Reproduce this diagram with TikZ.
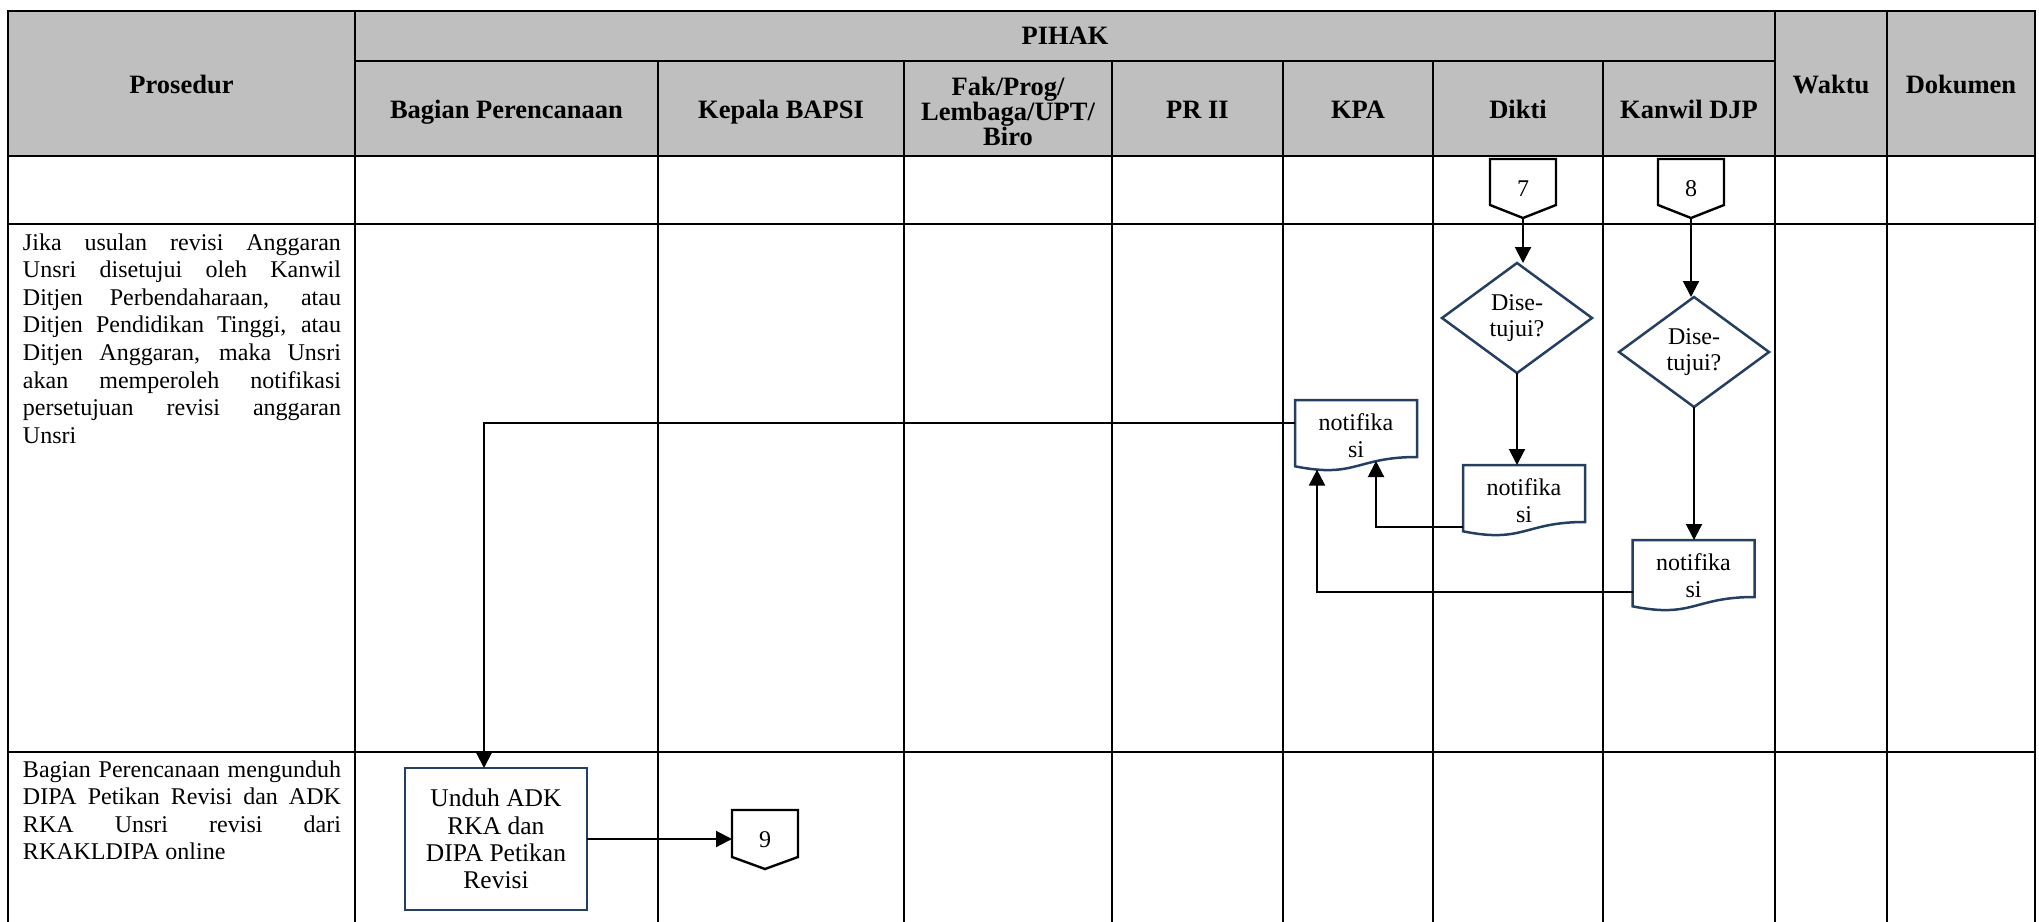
\documentclass[tikz,border=0pt]{standalone}
\usepackage{fontspec}
\setmainfont{Liberation Serif}
\usetikzlibrary{calc,arrows.meta}
\definecolor{hdrgray}{RGB}{191,191,191}
\definecolor{navy}{RGB}{36,63,96}
\newcommand\jline[1]{\hbox to \linewidth{\spaceskip=0.25em plus 1fil minus 0.12em\relax #1}}
\newcommand\docpath[1]{\draw[shp] (#1.north west) -- (#1.north east) -- ($(#1.north east)+(0,57)$) .. controls ($(#1.north)+(0,57)$) and ($(#1.north)+(0,78.6)$) .. ($(#1.north west)+(0,66.3)$) -- cycle;}
\newcommand\conpath[2]{\draw[cn] (#1.north west) -- (#1.north east) -- ($(#1.north east)+(0,#2)$) -- (#1.south) -- ($(#1.north west)+(0,#2)$) -- cycle;}
\newcommand\diapath[1]{\draw[shp] (#1.north) -- (#1.east) -- (#1.south) -- (#1.west) -- cycle;}
\begin{document}
\begin{tikzpicture}[x=1pt,y=-1pt,
  every node/.style={inner sep=0pt, outer sep=0pt, font=\fontsize{24}{27.6}\selectfont},
  hd/.style={font=\fontsize{26.5}{25}\selectfont\bfseries},
  grid/.style={line width=2.6pt, line cap=rect},
  shp/.style={line width=2.5pt, draw=navy, line join=miter},
  cn/.style={line width=2.4pt, draw=black},
  arr/.style={line width=2.1pt, -{Triangle[length=16pt,width=16pt]}},
  conbox/.style={minimum width=66pt, minimum height=59pt},
  docbox/.style={minimum width=122pt, minimum height=71pt, align=center, font=\fontsize{24}{26.5}\selectfont},
  diabox/.style={minimum width=150pt, minimum height=110pt, align=center, font=\fontsize{24}{26.5}\selectfont},
]
\useasboundingbox (0,0) rectangle (2039,921);
% header background
\fill[hdrgray] (8,11) rectangle (2035,156);
% grid
\foreach \x in {8,355,1775,1887,2035} \draw[grid] (\x,11) -- (\x,921);
\foreach \x in {658,904,1112,1283,1433,1603} \draw[grid] (\x,61) -- (\x,921);
\foreach \y in {11,156,224,752} \draw[grid] (8,\y) -- (2035,\y);
\draw[grid] (355,61) -- (1775,61);
% header texts
\node[hd, anchor=base] (hpro) at (181.5,93.5) {Prosedur};
\node[hd, anchor=base] (hpih) at (1065,44) {PIHAK};
\node[hd, anchor=base] (hbag) at (506.5,118) {Bagian Perencanaan};
\node[hd, anchor=base] (hkep) at (781,118) {Kepala BAPSI};
\node[hd, align=center] (hfak) at (1008,111.5) {Fak/Prog/\\Lembaga/UPT/\\Biro};
\node[hd, anchor=base] (hpr) at (1197.5,118) {PR II};
\node[hd, anchor=base] (hkpa) at (1358,118) {KPA};
\node[hd, anchor=base] (hdik) at (1518,118) {Dikti};
\node[hd, anchor=base] (hkan) at (1689,118) {Kanwil DJP};
\node[hd, anchor=base] (hwak) at (1831,93.5) {Waktu};
\node[hd, anchor=base] (hdok) at (1961,93.5) {Dokumen};
% procedure texts
\node[anchor=base west] (t2) at (23,250) {\parbox[t]{318pt}{%
  \jline{Jika usulan revisi Anggaran}%
  \jline{Unsri disetujui oleh Kanwil}%
  \jline{Ditjen Perbendaharaan, atau}%
  \jline{Ditjen Pendidikan Tinggi, atau}%
  \jline{Ditjen Anggaran, maka Unsri}%
  \jline{akan memperoleh notifikasi}%
  \jline{persetujuan revisi anggaran}%
  \hbox{Unsri}}};
\node[anchor=base west] (t3) at (23,777) {\parbox[t]{318pt}{%
  \jline{Bagian Perencanaan mengunduh}%
  \jline{DIPA Petikan Revisi dan ADK}%
  \jline{RKA Unsri revisi dari}%
  \hbox{RKAKLDIPA online}}};
% off-page connectors
\node[conbox, anchor=north] (c7) at (1523,159) {7};
\conpath{c7}{46}
\node[conbox, anchor=north] (c8) at (1691,159) {8};
\conpath{c8}{46}
\node[conbox, anchor=north] (c9) at (765,810) {9};
\conpath{c9}{47}
% decisions
\node[diabox] (d1) at (1517,318) {Dise-\\tujui?};
\diapath{d1}
\node[diabox] (d2) at (1694,352) {Dise-\\tujui?};
\diapath{d2}
% documents
\node[docbox, anchor=north] (dik) at (1524,465) {notifika\\si};
\docpath{dik}
\node[docbox, anchor=north] (kan) at (1693.5,540) {notifika\\si};
\docpath{kan}
\node[docbox, anchor=north] (kpa) at (1356,400) {notifika\\si};
\docpath{kpa}
% process box
\node[draw=navy, line width=2.5pt, minimum width=182pt, minimum height=142pt, align=center, font=\fontsize{25.5}{27.4}\selectfont] (box) at (496,839) {Unduh ADK\\RKA dan\\DIPA Petikan\\Revisi};
% connectors
\draw[arr] (c7.south) -- (c7.south |- d1.north);
\draw[arr] (d1.south) -- (d1.south |- dik.north);
\draw[arr] (c8.south) -- (c8.south |- d2.north);
\draw[arr] (d2.south) -- (d2.south |- kan.north);
\draw[arr] ($(dik.north west)+(0,62)$) -| ($(kpa.north west)+(81,61)$);
\draw[arr] ($(kan.north west)+(0,52)$) -| ($(kpa.north west)+(22,69.6)$);
\draw[arr] ($(kpa.north west)+(0,23)$) -| ($(box.north)+(-12,0)$);
\draw[arr] (box.east) -- (box.east -| c9.west);
\end{tikzpicture}
\end{document}
